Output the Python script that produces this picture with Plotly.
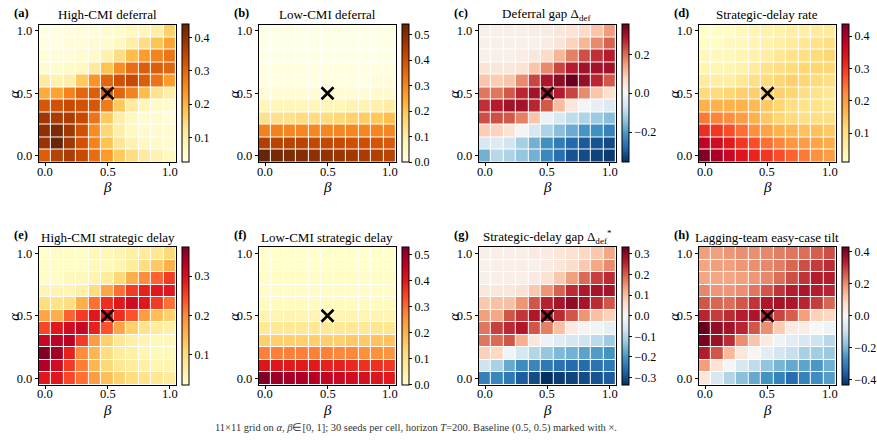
import plotly.graph_objects as go

# grid values
alpha = [0.0, 0.1, 0.2, 0.3, 0.4, 0.5, 0.6, 0.7, 0.8, 0.9, 1.0]
beta = [0.0, 0.1, 0.2, 0.3, 0.4, 0.5, 0.6, 0.7, 0.8, 0.9, 1.0]
baseline_beta = [0.5]
baseline_alpha = [0.5]
tick_vals = [0.0, 0.5, 1.0]
tick_text = ["0.0", "0.5", "1.0"]

# each matrix: rows listed alpha = 1.0 (top) -> 0.0 (bottom); columns beta = 0.0 -> 1.0
high_cmi_deferral = [
    [0.025, 0.03, 0.03, 0.04, 0.04, 0.05, 0.06, 0.07, 0.08, 0.10, 0.16],
    [0.03, 0.03, 0.04, 0.04, 0.05, 0.05, 0.07, 0.10, 0.14, 0.18, 0.22],
    [0.04, 0.04, 0.04, 0.05, 0.06, 0.09, 0.14, 0.19, 0.23, 0.26, 0.28],
    [0.05, 0.05, 0.06, 0.07, 0.11, 0.18, 0.25, 0.29, 0.31, 0.31, 0.30],
    [0.11, 0.09, 0.10, 0.17, 0.24, 0.30, 0.33, 0.34, 0.31, 0.28, 0.23],
    [0.21, 0.22, 0.26, 0.30, 0.31, 0.31, 0.30, 0.26, 0.19, 0.13, 0.10],
    [0.32, 0.33, 0.34, 0.33, 0.32, 0.27, 0.17, 0.11, 0.08, 0.06, 0.05],
    [0.38, 0.37, 0.37, 0.34, 0.28, 0.17, 0.10, 0.07, 0.05, 0.05, 0.04],
    [0.40, 0.42, 0.38, 0.33, 0.25, 0.15, 0.10, 0.07, 0.06, 0.05, 0.05],
    [0.39, 0.44, 0.38, 0.33, 0.26, 0.18, 0.12, 0.09, 0.07, 0.06, 0.05],
    [0.31, 0.36, 0.37, 0.34, 0.29, 0.23, 0.17, 0.14, 0.11, 0.09, 0.07],
]
low_cmi_deferral = [
    [0.00, 0.00, 0.00, 0.00, 0.00, 0.00, 0.00, 0.00, 0.00, 0.00, 0.00],
    [0.00, 0.00, 0.00, 0.00, 0.00, 0.00, 0.00, 0.00, 0.00, 0.00, 0.00],
    [0.00, 0.00, 0.00, 0.00, 0.00, 0.00, 0.00, 0.00, 0.00, 0.00, 0.00],
    [0.01, 0.01, 0.01, 0.01, 0.01, 0.01, 0.01, 0.01, 0.01, 0.01, 0.01],
    [0.01, 0.01, 0.01, 0.01, 0.01, 0.01, 0.01, 0.01, 0.01, 0.02, 0.02],
    [0.03, 0.03, 0.03, 0.03, 0.03, 0.03, 0.03, 0.03, 0.03, 0.04, 0.04],
    [0.07, 0.07, 0.07, 0.07, 0.07, 0.07, 0.07, 0.08, 0.08, 0.09, 0.10],
    [0.14, 0.14, 0.14, 0.15, 0.15, 0.15, 0.16, 0.17, 0.18, 0.19, 0.21],
    [0.31, 0.31, 0.30, 0.30, 0.30, 0.30, 0.30, 0.30, 0.30, 0.30, 0.30],
    [0.44, 0.43, 0.43, 0.43, 0.42, 0.42, 0.41, 0.40, 0.40, 0.39, 0.38],
    [0.54, 0.52, 0.51, 0.50, 0.49, 0.48, 0.47, 0.46, 0.45, 0.44, 0.43],
]
deferral_gap = [
    [0.02, 0.02, 0.02, 0.02, 0.03, 0.03, 0.04, 0.05, 0.07, 0.10, 0.15],
    [0.02, 0.02, 0.02, 0.02, 0.02, 0.03, 0.05, 0.08, 0.12, 0.17, 0.21],
    [0.02, 0.02, 0.02, 0.03, 0.04, 0.07, 0.12, 0.18, 0.23, 0.26, 0.28],
    [0.05, 0.04, 0.04, 0.05, 0.10, 0.17, 0.24, 0.28, 0.30, 0.30, 0.30],
    [0.10, 0.09, 0.10, 0.17, 0.24, 0.29, 0.32, 0.355, 0.31, 0.27, 0.22],
    [0.19, 0.19, 0.22, 0.27, 0.30, 0.29, 0.28, 0.24, 0.17, 0.10, 0.06],
    [0.26, 0.28, 0.30, 0.30, 0.27, 0.22, 0.11, 0.04, -0.01, -0.03, -0.05],
    [0.23, 0.23, 0.22, 0.18, 0.10, -0.02, -0.06, -0.09, -0.11, -0.13, -0.15],
    [0.09, 0.08, 0.05, -0.01, -0.06, -0.11, -0.15, -0.18, -0.21, -0.22, -0.24],
    [-0.06, -0.05, -0.07, -0.12, -0.17, -0.22, -0.25, -0.28, -0.30, -0.31, -0.32],
    [-0.17, -0.10, -0.11, -0.14, -0.17, -0.23, -0.27, -0.31, -0.32, -0.33, -0.34],
]
strategic_delay_rate = [
    [0.01, 0.02, 0.02, 0.03, 0.04, 0.05, 0.05, 0.06, 0.06, 0.07, 0.07],
    [0.02, 0.02, 0.03, 0.03, 0.04, 0.05, 0.06, 0.07, 0.08, 0.09, 0.10],
    [0.03, 0.03, 0.03, 0.04, 0.05, 0.06, 0.08, 0.09, 0.10, 0.11, 0.12],
    [0.04, 0.04, 0.04, 0.05, 0.07, 0.09, 0.10, 0.11, 0.12, 0.12, 0.12],
    [0.07, 0.06, 0.06, 0.08, 0.10, 0.11, 0.12, 0.13, 0.12, 0.11, 0.10],
    [0.11, 0.11, 0.12, 0.13, 0.13, 0.13, 0.13, 0.12, 0.10, 0.09, 0.08],
    [0.17, 0.17, 0.17, 0.17, 0.16, 0.14, 0.12, 0.10, 0.09, 0.09, 0.08],
    [0.24, 0.23, 0.22, 0.20, 0.17, 0.14, 0.12, 0.11, 0.10, 0.10, 0.10],
    [0.31, 0.30, 0.28, 0.25, 0.22, 0.19, 0.17, 0.16, 0.15, 0.15, 0.14],
    [0.38, 0.36, 0.33, 0.30, 0.28, 0.25, 0.23, 0.21, 0.20, 0.19, 0.18],
    [0.437, 0.40, 0.37, 0.34, 0.32, 0.30, 0.28, 0.26, 0.24, 0.22, 0.20],
]
high_cmi_strategic_delay = [
    [0.023, 0.03, 0.03, 0.03, 0.04, 0.04, 0.05, 0.06, 0.07, 0.08, 0.11],
    [0.03, 0.03, 0.03, 0.03, 0.04, 0.04, 0.05, 0.07, 0.10, 0.13, 0.16],
    [0.03, 0.03, 0.04, 0.04, 0.05, 0.07, 0.11, 0.16, 0.20, 0.23, 0.26],
    [0.05, 0.05, 0.05, 0.06, 0.10, 0.17, 0.22, 0.26, 0.28, 0.29, 0.29],
    [0.10, 0.09, 0.10, 0.16, 0.22, 0.27, 0.29, 0.31, 0.29, 0.26, 0.22],
    [0.17, 0.16, 0.23, 0.26, 0.29, 0.29, 0.27, 0.24, 0.18, 0.14, 0.12],
    [0.25, 0.29, 0.31, 0.32, 0.28, 0.24, 0.17, 0.12, 0.09, 0.07, 0.06],
    [0.32, 0.33, 0.33, 0.26, 0.18, 0.12, 0.08, 0.06, 0.05, 0.04, 0.04],
    [0.375, 0.35, 0.28, 0.20, 0.15, 0.10, 0.07, 0.06, 0.05, 0.04, 0.04],
    [0.34, 0.31, 0.26, 0.21, 0.15, 0.11, 0.08, 0.07, 0.06, 0.05, 0.05],
    [0.29, 0.29, 0.25, 0.22, 0.18, 0.14, 0.12, 0.10, 0.09, 0.08, 0.07],
]
low_cmi_strategic_delay = [
    [0.00, 0.00, 0.00, 0.00, 0.00, 0.00, 0.00, 0.00, 0.00, 0.00, 0.00],
    [0.00, 0.00, 0.00, 0.00, 0.00, 0.00, 0.00, 0.00, 0.00, 0.00, 0.00],
    [0.01, 0.01, 0.01, 0.01, 0.01, 0.01, 0.01, 0.01, 0.01, 0.01, 0.01],
    [0.01, 0.01, 0.01, 0.01, 0.01, 0.01, 0.01, 0.01, 0.01, 0.01, 0.01],
    [0.02, 0.02, 0.02, 0.02, 0.02, 0.02, 0.02, 0.02, 0.02, 0.02, 0.02],
    [0.04, 0.04, 0.04, 0.04, 0.04, 0.04, 0.04, 0.04, 0.04, 0.04, 0.04],
    [0.08, 0.08, 0.08, 0.08, 0.08, 0.08, 0.08, 0.08, 0.08, 0.09, 0.09],
    [0.15, 0.15, 0.15, 0.15, 0.15, 0.15, 0.15, 0.16, 0.16, 0.17, 0.17],
    [0.28, 0.28, 0.28, 0.28, 0.28, 0.28, 0.27, 0.27, 0.26, 0.26, 0.25],
    [0.41, 0.41, 0.40, 0.40, 0.40, 0.39, 0.39, 0.38, 0.37, 0.37, 0.36],
    [0.53, 0.50, 0.49, 0.48, 0.47, 0.45, 0.44, 0.43, 0.42, 0.41, 0.40],
]
strategic_delay_gap = [
    [0.02, 0.02, 0.02, 0.02, 0.03, 0.03, 0.04, 0.05, 0.07, 0.09, 0.13],
    [0.02, 0.02, 0.02, 0.02, 0.02, 0.03, 0.04, 0.06, 0.09, 0.13, 0.16],
    [0.02, 0.02, 0.02, 0.02, 0.03, 0.05, 0.09, 0.14, 0.19, 0.23, 0.25],
    [0.04, 0.04, 0.04, 0.05, 0.09, 0.15, 0.20, 0.25, 0.27, 0.28, 0.28],
    [0.09, 0.10, 0.10, 0.15, 0.21, 0.26, 0.28, 0.30, 0.28, 0.25, 0.21],
    [0.14, 0.13, 0.21, 0.24, 0.27, 0.27, 0.25, 0.21, 0.15, 0.10, 0.08],
    [0.18, 0.23, 0.25, 0.27, 0.21, 0.17, 0.10, 0.03, 0.01, -0.01, -0.03],
    [0.18, 0.19, 0.21, 0.12, 0.04, -0.02, -0.04, -0.06, -0.07, -0.09, -0.12],
    [0.08, 0.07, -0.01, -0.06, -0.10, -0.13, -0.15, -0.16, -0.18, -0.19, -0.20],
    [-0.07, -0.11, -0.17, -0.21, -0.22, -0.24, -0.25, -0.26, -0.26, -0.25, -0.24],
    [-0.23, -0.22, -0.24, -0.28, -0.30, -0.335, -0.32, -0.31, -0.30, -0.29, -0.28],
]
easy_case_tilt = [
    [0.18, 0.18, 0.19, 0.20, 0.20, 0.21, 0.22, 0.23, 0.24, 0.26, 0.28],
    [0.17, 0.18, 0.18, 0.19, 0.20, 0.21, 0.22, 0.25, 0.28, 0.30, 0.32],
    [0.17, 0.17, 0.17, 0.18, 0.19, 0.21, 0.24, 0.28, 0.31, 0.34, 0.34],
    [0.21, 0.19, 0.19, 0.20, 0.23, 0.27, 0.31, 0.34, 0.35, 0.34, 0.33],
    [0.27, 0.25, 0.24, 0.27, 0.31, 0.35, 0.36, 0.35, 0.33, 0.30, 0.25],
    [0.33, 0.30, 0.32, 0.34, 0.35, 0.33, 0.29, 0.26, 0.18, 0.10, 0.09],
    [0.43, 0.38, 0.36, 0.33, 0.27, 0.20, 0.11, 0.04, 0.03, 0.00, -0.02],
    [0.41, 0.37, 0.32, 0.20, 0.12, 0.04, -0.02, -0.05, -0.07, -0.09, -0.12],
    [0.34, 0.27, 0.14, 0.05, 0.01, -0.05, -0.08, -0.10, -0.14, -0.15, -0.16],
    [0.18, 0.06, -0.01, -0.07, -0.11, -0.17, -0.20, -0.22, -0.23, -0.25, -0.21],
    [0.05, -0.07, -0.13, -0.18, -0.22, -0.26, -0.29, -0.33, -0.29, -0.27, -0.24],
]

titles = [
    "High-CMI deferral", "Low-CMI deferral", "Deferral gap Δ<sub>def</sub>", "Strategic-delay rate",
    "High-CMI strategic delay", "Low-CMI strategic delay",
    "Strategic-delay gap Δ<sub>def</sub><sup>*</sup>", "Lagging-team easy-case tilt",
]
labels = ["(a)", "(b)", "(c)", "(d)", "(e)", "(f)", "(g)", "(h)"]
matrices = [high_cmi_deferral, low_cmi_deferral, deferral_gap, strategic_delay_rate,
            high_cmi_strategic_delay, low_cmi_strategic_delay, strategic_delay_gap, easy_case_tilt]

YlOrBr = ['#ffffe5', '#fff7bc', '#fee391', '#fec44f', '#fe9929', '#ec7014', '#cc4c02', '#993404', '#662506']
YlOrRd = ['#ffffcc', '#ffeda0', '#fed976', '#feb24c', '#fd8d3c', '#fc4e2a', '#e31a1c', '#bd0026', '#800026']
RdBu_r = ['#053061', '#2166ac', '#4393c3', '#92c5de', '#d1e5f0', '#f7f7f7',
          '#fddbc7', '#f4a582', '#d6604d', '#b2182b', '#67001f']
scales = [YlOrBr, YlOrBr, RdBu_r, YlOrRd, YlOrRd, YlOrRd, RdBu_r, RdBu_r]
diverging = [False, False, True, False, False, False, True, True]
cb_dtick = [0.1, 0.1, 0.2, 0.1, 0.1, 0.1, 0.1, 0.2]


def cscale(cols):
    n = len(cols) - 1
    return [[i / n, c] for i, c in enumerate(cols)]


W, H = 877, 440
FONT = "Liberation Serif"
col_left = [39, 260, 481, 702]
row_top = [24.5, 247]
PW, PH = 138, 137.5

fig = go.Figure()
annotations = []
for i in range(8):
    r, c = divmod(i, 4)
    k = i + 1
    left, top = col_left[c], row_top[r]
    bottom = top + PH
    xa, ya = f"x{k}", f"y{k}"
    z = matrices[i][::-1]
    hm = dict(
        x=beta, y=alpha, z=z, colorscale=cscale(scales[i]), xgap=1, ygap=1,
        xaxis=xa, yaxis=ya, hoverinfo="skip",
        colorbar=dict(
            x=(left + PW + 6) / W, xanchor="left", xpad=0,
            y=1 - (top + PH / 2) / H, yanchor="middle", ypad=0,
            len=PH, lenmode="pixels", thickness=7, thicknessmode="pixels",
            outlinewidth=1, outlinecolor="black",
            ticks="outside", ticklen=3, tickwidth=1, tickcolor="black",
            tick0=0, dtick=cb_dtick[i], tickformat=".1f",
            tickfont=dict(family=FONT, size=12, color="black"),
        ),
    )
    if diverging[i]:
        hm["zmid"] = 0
    fig.add_trace(go.Heatmap(**hm))
    fig.add_trace(go.Scatter(
        x=baseline_beta, y=baseline_alpha, mode="markers", xaxis=xa, yaxis=ya,
        marker=dict(symbol="x-thin", size=12, line=dict(width=2.6, color="black")),
        showlegend=False, hoverinfo="skip"))
    axis_common = dict(range=[-0.05, 1.05], tickvals=tick_vals, ticktext=tick_text,
                       ticks="outside", ticklen=3, tickcolor="black",
                       showline=True, mirror=True, linecolor="black", linewidth=1,
                       showgrid=False, zeroline=False,
                       tickfont=dict(family=FONT, size=12.5, color="black"))
    fig.update_layout({
        f"xaxis{k}": dict(domain=[left / W, (left + PW) / W], anchor=ya,
                          showticklabels=False, **axis_common),
        f"yaxis{k}": dict(domain=[1 - bottom / H, 1 - top / H], anchor=xa, **axis_common),
    })
    # x tick labels placed close to the axis, as in the reference
    for tv, tt in zip(tick_vals, tick_text):
        annotations.append(dict(text=tt, x=tv, xref=xa, y=1 - (bottom + 9.5) / H, yref="paper",
                                xanchor="center", yanchor="middle", showarrow=False,
                                font=dict(family=FONT, size=12.5, color="black")))
    cx = (left + PW / 2) / W
    annotations.append(dict(text=titles[i], x=cx, y=1 - (top - 10) / H, xref="paper", yref="paper",
                            xanchor="center", yanchor="middle", showarrow=False,
                            font=dict(family=FONT, size=13, color="black")))
    annotations.append(dict(text=f"<b>{labels[i]}</b>", x=(left - 27) / W, y=1 - (top - 12) / H,
                            xref="paper", yref="paper", xanchor="left", yanchor="middle",
                            showarrow=False, font=dict(family=FONT, size=12.5, color="black")))
    annotations.append(dict(text="<i>β</i>", x=cx, y=1 - (bottom + 25) / H, xref="paper", yref="paper",
                            xanchor="center", yanchor="middle", showarrow=False,
                            font=dict(family=FONT, size=15, color="black")))
    annotations.append(dict(text="<i>α</i>", x=(left - 25) / W, y=1 - (top + PH / 2) / H,
                            xref="paper", yref="paper", xanchor="center", yanchor="middle",
                            textangle=-90, showarrow=False,
                            font=dict(family=FONT, size=15, color="black")))

annotations.append(dict(
    text="11×11 grid on <i>α</i>, <i>β</i>∈[0, 1]; 30 seeds per cell, horizon <i>T</i>=200. "
         "Baseline (0.5, 0.5) marked with ×.",
    x=418 / W, y=1 - 428 / H, xref="paper", yref="paper", xanchor="center", yanchor="middle",
    showarrow=False, font=dict(family=FONT, size=10.5, color="#333333")))

fig.update_layout(width=W, height=H, margin=dict(l=0, r=0, t=0, b=0),
                  paper_bgcolor="white", plot_bgcolor="white", showlegend=False,
                  annotations=annotations, font=dict(family=FONT, color="black"))
fig.write_html("out.html")
